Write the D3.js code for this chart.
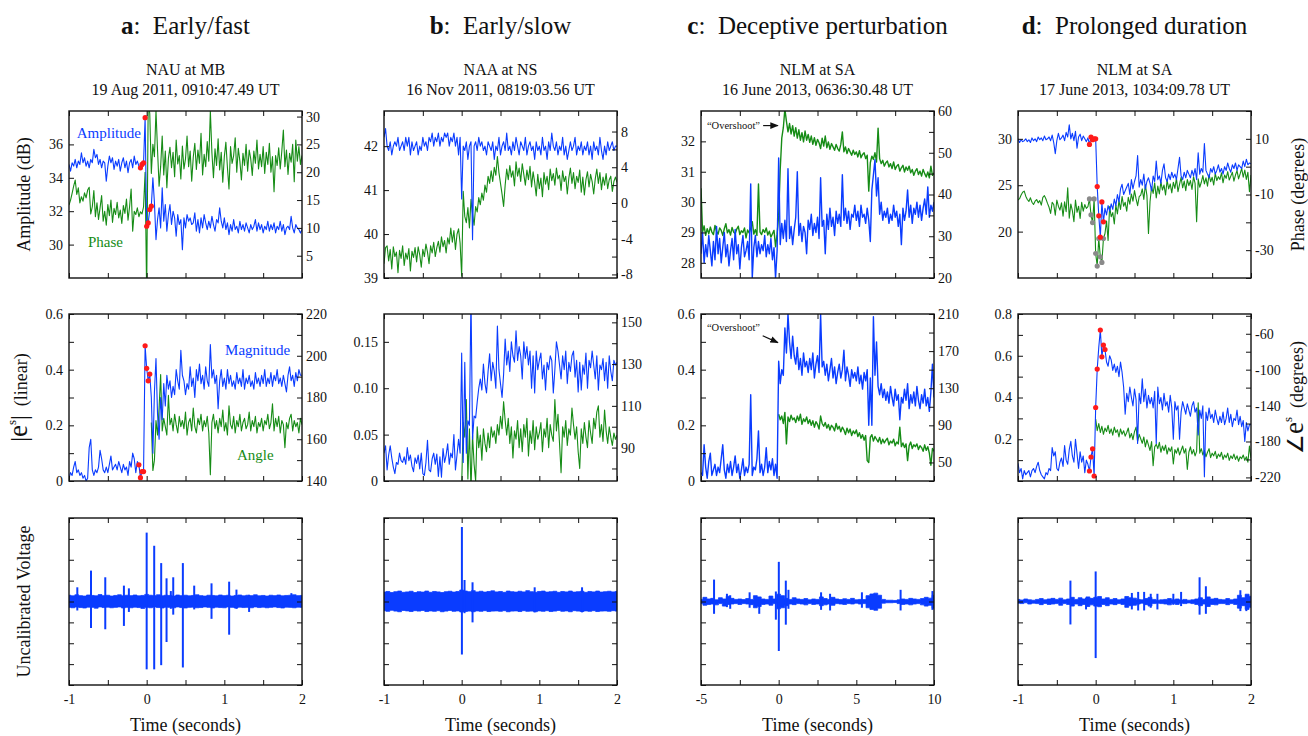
<!DOCTYPE html>
<html>
<head>
<meta charset="utf-8">
<title>Early VLF perturbations</title>
<script src="https://cdn.jsdelivr.net/npm/d3@7"></script>
<style>
  body { margin: 0; background: #fff; }
  svg text { font-family: "Liberation Serif", "Times New Roman", serif; fill: #111; }
</style>
</head>
<body>
<svg id="fig" width="1308" height="736"></svg>
<script>
// ---------- data ----------
// columns a, b, d: samples every 0.02 s from -1 s ; column c: every 0.1 s from -5 s
const letters = ["a", "b", "c", "d"];
const names = ["Early/fast", "Early/slow", "Deceptive perturbation", "Prolonged duration"];
const stations = ["NAU at MB", "NAA at NS", "NLM at SA", "NLM at SA"];
const dates = ["19 Aug 2011, 0910:47.49 UT", "16 Nov 2011, 0819:03.56 UT",
               "16 June 2013, 0636:30.48 UT", "17 June 2013, 1034:09.78 UT"];

const ampA = [
  34.8,34.4,34.9,34.7,35.1,34.6,35.0,34.8,35.5,34.9,
  35.2,34.7,35.0,34.6,35.1,34.9,35.7,35.2,35.4,34.8,
  35.1,34.6,35.0,34.9,33.8,34.7,35.3,34.9,35.2,34.5,
  35.0,34.7,35.1,34.4,34.9,35.2,34.6,35.0,34.3,34.9,
  35.1,34.6,35.3,34.8,35.0,34.7,34.6,34.8,34.9,37.6,
  31.1,31.3,32.1,32.3,34.0,32.5,30.3,31.5,32.2,31.0,
  33.4,31.4,32.4,30.8,31.8,32.4,31.2,32.0,31.6,30.5,
  31.8,31.2,31.5,29.7,31.6,31.0,31.8,31.4,31.6,31.2,
  31.3,31.9,30.8,31.5,30.7,31.6,31.0,31.8,31.3,30.9,
  31.4,31.0,31.7,31.2,30.8,31.5,31.3,32.2,31.4,31.0,
  31.6,30.9,31.3,30.6,31.2,30.8,31.5,30.9,31.1,30.7,
  31.4,30.9,31.2,30.8,31.3,31.0,30.7,31.2,30.9,31.1,
  31.5,30.8,31.3,30.9,31.2,30.7,31.1,30.9,31.4,30.8,
  31.2,30.9,31.3,30.7,31.1,30.9,31.4,30.8,31.2,30.6,
  31.0,31.1,30.9,31.7,31.0,30.7,31.2,31.0,30.9,30.7,30.9];
const phaseA = [
  14.1,15.0,16.2,17.5,18.6,16.0,17.2,14.5,15.6,14.8,
  16.3,15.4,16.8,17.3,12.5,13.8,16.7,12.0,14.5,11.5,
  13.6,15.8,11.2,13.0,10.5,14.2,12.2,15.0,11.0,13.5,
  12.4,14.6,11.8,13.2,10.8,14.0,12.6,15.2,11.4,13.8,
  17.0,9.4,13.0,12.4,13.6,12.0,12.9,12.5,13.8,20.0,
  -2.0,33.0,30.5,19.8,25.0,22.8,31.0,24.0,17.5,21.0,
  26.5,19.5,23.8,17.2,22.5,24.5,20.8,23.6,19.2,25.8,
  21.5,23.0,18.8,24.7,20.6,22.4,26.5,21.0,23.8,18.4,
  22.7,25.2,20.5,24.0,21.6,27.0,19.5,23.2,21.0,25.5,
  22.0,31.0,23.5,19.0,24.2,21.2,26.0,20.4,23.6,18.2,
  22.8,25.4,20.8,17.0,24.6,21.6,23.0,26.2,20.0,24.3,
  22.0,18.6,23.4,21.2,25.0,20.2,24.0,22.4,19.4,23.8,
  21.6,25.8,20.6,23.2,21.0,24.6,19.8,23.6,21.4,25.2,
  20.0,22.8,16.5,23.0,21.2,24.4,20.6,23.8,27.6,21.0,
  24.0,19.6,23.4,21.8,25.0,18.3,25.8,22.0,24.6,21.4,23.0];
const magA = [
  0.01,0.03,0.02,0.05,0.07,0.03,0.04,0.02,0.03,0.01,
  0.02,0.00,0.01,0.12,0.15,0.04,0.02,0.04,0.03,0.05,
  0.11,0.08,0.04,0.03,0.05,0.03,0.06,0.09,0.04,0.05,
  0.06,0.04,0.07,0.05,0.03,0.06,0.04,0.05,0.02,0.07,
  0.05,0.10,0.08,0.03,0.07,0.058,0.012,0.034,0.034,0.486,
  0.405,0.36,0.384,0.30,0.10,0.32,0.44,0.24,0.15,0.30,
  0.22,0.35,0.27,0.38,0.33,0.36,0.30,0.34,0.31,0.40,
  0.36,0.33,0.47,0.38,0.36,0.31,0.35,0.33,0.41,0.34,
  0.37,0.30,0.40,0.36,0.42,0.35,0.38,0.33,0.41,0.36,
  0.34,0.49,0.37,0.40,0.35,0.38,0.26,0.36,0.40,0.34,
  0.37,0.33,0.40,0.35,0.38,0.34,0.36,0.33,0.39,0.35,
  0.37,0.34,0.40,0.33,0.37,0.35,0.38,0.34,0.36,0.33,
  0.39,0.35,0.37,0.34,0.38,0.35,0.40,0.34,0.37,0.35,
  0.39,0.34,0.38,0.36,0.40,0.35,0.37,0.34,0.38,0.35,
  0.32,0.38,0.41,0.36,0.38,0.34,0.39,0.36,0.40,0.38,0.38];
// angle starts at +0.06 s
const angA = [
  168,145,150,169,162,175,191,164,170,166,
  162,181,167,170,164,172,167,163,171,166,
  169,165,173,162,168,170,164,175,166,163,
  170,167,172,164,169,166,171,163,143,168,
  172,165,169,163,170,166,174,164,168,162,
  176,167,165,171,163,169,166,172,164,168,
  170,165,167,173,164,169,166,171,163,168,
  166,170,164,169,167,172,165,168,177,164,
  170,166,171,163,169,167,156,168,165,170,
  172,164,169,166,168,163,170,167];

const ampB = [
  42.2,42.4,42.0,41.9,42.1,41.8,42.0,42.1,42.0,42.2,
  41.9,42.0,42.1,41.9,42.2,42.0,42.2,41.8,42.1,41.9,
  42.0,42.1,41.8,42.0,41.9,42.2,42.0,42.1,41.9,42.2,
  42.1,42.3,42.0,42.2,42.1,42.3,42.0,42.2,42.1,42.3,
  42.2,42.3,42.0,42.2,42.1,42.3,42.0,42.2,41.8,42.2,
  40.8,42.0,41.9,42.1,41.7,42.0,42.1,39.87,42.0,42.1,
  41.9,42.2,42.0,42.1,41.9,42.0,41.8,42.1,42.0,41.9,
  42.1,41.7,42.0,41.9,42.2,41.8,42.0,42.1,41.9,42.3,
  41.9,42.0,41.8,42.1,41.9,42.2,42.0,41.8,42.1,42.0,
  41.9,42.2,41.8,42.0,42.1,41.9,42.0,41.7,42.1,41.9,
  42.0,41.8,42.2,41.9,42.0,41.7,42.1,41.9,42.3,42.0,
  41.9,42.1,41.8,42.0,41.9,42.2,41.8,42.0,41.7,41.9,
  42.1,41.9,42.0,42.2,41.8,42.0,41.9,42.1,41.8,42.0,
  41.9,42.1,41.8,42.0,41.7,42.1,41.9,42.0,41.8,42.2,
  41.9,41.7,42.0,41.8,42.1,41.9,42.0,42.1,41.9,42.0,42.0];
const phaseB = [
  -6.8,-5.0,-4.8,-6.5,-5.2,-7.4,-4.9,-6.0,-5.5,-7.8,
  -5.3,-6.2,-4.8,-7.0,-5.6,-6.3,-5.1,-7.6,-5.4,-6.1,
  -5.0,-6.6,-4.9,-5.8,-7.2,-5.2,-6.0,-4.6,-5.5,-6.8,
  -4.8,-5.6,-4.4,-6.0,-5.0,-4.3,-5.5,-3.8,-4.9,-4.2,
  -5.6,-3.9,-4.6,-2.8,-4.4,-3.1,-5.2,-3.5,-2.9,-4.5,
  -8.2,1.3,-1.5,-2.2,-0.5,-2.8,0.4,-1.2,-2.5,-0.4,
  -1.0,0.6,-0.2,1.1,0.3,2.0,1.2,3.0,2.2,3.6,
  2.4,4.0,3.1,5.2,3.4,2.2,1.0,-0.4,2.0,3.8,
  2.6,4.2,2.9,3.6,1.9,4.6,3.0,3.9,2.4,4.4,
  3.2,2.0,3.7,2.6,4.1,1.8,3.5,2.3,0.8,3.2,
  1.6,2.8,0.7,3.4,2.1,3.0,1.5,3.8,2.5,3.3,
  2.0,3.9,2.7,3.1,1.4,3.6,2.4,3.0,1.0,2.8,
  3.9,2.2,3.4,1.6,3.0,2.3,3.7,1.2,2.9,0.9,
  2.6,3.5,1.8,3.2,2.4,1.0,2.7,3.8,2.2,3.4,
  1.5,2.9,2.0,3.3,1.6,2.6,3.0,1.3,2.4,2.9,2.3];
const magB = [
  0.030,0.038,0.012,0.028,0.038,0.025,0.015,0.008,0.020,0.018,
  0.030,0.022,0.020,0.026,0.018,0.036,0.022,0.028,0.016,0.010,
  0.025,0.019,0.028,0.013,0.030,0.008,0.006,0.020,0.044,0.012,
  0.010,0.024,0.030,0.018,0.029,0.005,0.026,0.004,0.035,0.020,
  0.028,0.040,0.018,0.030,0.025,0.050,0.012,0.028,0.045,0.030,
  0.138,0.020,0.128,0.030,0.065,0.060,0.200,0.045,0.070,0.068,
  0.085,0.100,0.110,0.098,0.126,0.105,0.095,0.118,0.137,0.108,
  0.128,0.118,0.100,0.167,0.120,0.105,0.090,0.115,0.153,0.125,
  0.140,0.118,0.150,0.135,0.128,0.162,0.130,0.145,0.135,0.110,
  0.150,0.132,0.145,0.125,0.140,0.100,0.135,0.095,0.140,0.120,
  0.130,0.138,0.110,0.125,0.098,0.128,0.120,0.135,0.130,0.095,
  0.120,0.150,0.140,0.125,0.110,0.135,0.120,0.140,0.105,0.128,
  0.118,0.135,0.140,0.112,0.130,0.096,0.128,0.098,0.125,0.115,
  0.138,0.100,0.130,0.122,0.140,0.125,0.110,0.135,0.098,0.125,
  0.120,0.132,0.108,0.128,0.100,0.135,0.118,0.108,0.130,0.125,0.128];
// angle starts at 0 s
const angB = [
  72,102,95,113,75,99,70,96,82,74,
  100,90,96,84,99,92,88,97,90,100,
  95,98,92,101,96,105,99,112,103,96,
  104,92,100,85,98,94,103,90,99,88,
  101,95,104,86,98,92,103,89,100,94,
  97,102,88,99,95,104,90,101,96,93,
  113,98,106,92,78,100,95,103,91,99,
  96,109,101,94,100,88,80,99,92,102,
  95,90,103,97,92,104,99,107,110,95,
  101,93,108,98,92,100,95,91,97,94,
  96];

const ampC = [
  28.3,29.0,28.0,28.6,28.2,28.9,28.4,27.9,28.7,28.1,
  29.2,28.3,28.8,28.0,28.5,29.0,28.2,28.6,27.9,28.4,
  28.8,28.1,29.1,28.3,28.6,27.8,28.5,28.9,28.2,28.4,
  28.7,28.1,30.6,27.5,28.5,28.9,28.2,28.7,28.3,28.6,
  28.4,28.9,28.2,28.6,28.3,28.8,28.1,28.5,27.5,28.4,
  31.45,28.6,29.3,28.8,29.4,28.7,31.1,28.8,29.2,28.6,
  29.1,29.5,31.0,28.9,29.3,28.7,29.2,29.0,28.3,29.4,
  29.1,29.6,28.9,29.3,29.0,29.5,28.8,30.8,29.2,29.4,
  28.3,29.6,29.1,29.8,29.2,29.5,28.9,29.7,29.3,29.6,
  29.2,30.9,29.4,29.8,29.3,29.7,29.1,29.6,29.5,29.9,
  29.4,29.7,29.2,29.9,29.5,29.6,29.3,29.8,29.4,28.7,
  30.4,30.9,31.4,30.2,30.8,29.6,30.0,29.4,29.7,29.5,
  29.8,29.3,29.6,29.4,29.9,29.5,29.7,29.2,29.6,28.6,
  29.8,29.4,29.7,30.4,29.5,29.9,29.3,29.8,29.6,30.0,
  29.5,29.9,29.4,29.8,30.1,29.6,30.5,29.5,29.9,29.7,30.0];
const phaseC = [
  41.5,31.0,32.5,30.2,31.8,30.6,32.2,31.0,30.4,32.6,
  31.2,30.5,32.0,31.4,30.2,31.8,33.0,30.8,31.6,30.3,
  32.1,31.0,30.6,31.7,32.4,30.4,31.3,30.9,32.0,29.6,
  31.5,30.8,31.9,33.5,30.5,31.6,30.2,42.5,31.0,30.4,
  31.6,30.9,32.0,30.3,31.2,29.8,30.6,31.4,27.5,30.5,
  35.0,46.0,53.5,56.0,60.5,57.5,55.0,57.0,54.5,56.5,
  54.0,56.0,53.5,55.5,53.0,54.8,52.6,55.2,53.0,54.4,
  52.5,54.0,52.0,53.6,51.8,53.2,52.4,51.0,53.5,51.6,
  54.0,51.2,52.6,50.8,52.2,51.4,50.6,52.0,51.0,50.4,
  52.0,55.0,50.2,51.4,49.8,51.0,50.2,49.4,50.6,49.6,
  50.2,49.0,50.5,48.8,49.6,50.0,48.6,49.4,40.8,47.6,
  49.2,48.4,50.0,47.8,55.9,48.6,47.4,48.2,46.8,47.6,
  48.0,46.6,47.4,46.2,47.8,46.0,46.8,47.2,45.6,46.4,
  47.0,45.4,46.6,45.8,46.8,45.2,46.0,44.6,45.6,46.2,
  44.8,45.6,44.4,46.0,45.0,44.2,45.4,44.0,46.8,44.6,45.2];
const magC = [
  0.03,0.02,0.13,0.05,0.01,0.07,0.10,0.02,0.04,0.06,
  0.02,0.05,0.03,0.08,0.13,0.04,0.01,0.06,0.03,0.07,
  0.02,0.05,0.09,0.03,0.06,0.01,0.04,0.08,0.02,0.05,
  0.03,0.06,0.31,0.02,0.05,0.04,0.08,0.18,0.03,0.06,
  0.02,0.05,0.12,0.03,0.07,0.04,0.08,0.02,0.06,0.01,
  0.43,0.35,0.40,0.38,0.55,0.46,0.60,0.50,0.44,0.52,
  0.45,0.42,0.48,0.40,0.44,0.38,0.46,0.41,0.43,0.39,
  0.44,0.40,0.46,0.37,0.42,0.45,0.39,0.60,0.41,0.43,
  0.38,0.42,0.36,0.40,0.44,0.37,0.41,0.35,0.39,0.42,
  0.37,0.40,0.47,0.36,0.41,0.38,0.34,0.40,0.37,0.39,
  0.36,0.41,0.35,0.38,0.33,0.39,0.36,0.40,0.20,0.37,
  0.20,0.59,0.38,0.50,0.34,0.31,0.35,0.30,0.33,0.29,
  0.32,0.28,0.34,0.30,0.27,0.33,0.29,0.31,0.22,0.30,
  0.28,0.33,0.29,0.35,0.26,0.31,0.28,0.32,0.27,0.34,
  0.29,0.26,0.31,0.28,0.33,0.27,0.30,0.25,0.32,0.42,0.30];
// angle starts at 0 s
const angC = [
  102,96,100,92,104,70,99,94,101,96,
  98,93,100,95,102,91,97,94,99,92,
  96,90,95,88,94,91,86,100,92,89,
  93,87,91,85,90,88,84,92,86,89,
  83,88,85,80,87,82,86,79,84,81,
  85,78,82,76,80,74,79,52,50,77,
  80,73,78,75,72,77,70,75,71,74,
  76,69,73,71,75,68,72,70,88,67,
  71,66,70,52,68,72,65,69,67,70,
  64,68,66,62,69,63,67,60,47,65,
  62];

const ampD = [
  30.0,29.6,29.9,29.7,29.8,30.0,29.7,29.9,29.6,30.1,
  29.8,30.0,29.7,30.2,29.9,30.1,29.8,30.3,29.9,30.0,
  30.2,29.8,30.4,29.6,28.4,29.8,30.6,29.9,30.1,30.4,
  29.8,30.7,30.2,31.5,30.0,30.6,29.8,30.8,29.0,30.2,
  30.5,29.8,30.3,30.0,29.7,30.1,29.4,30.2,29.9,30.0,
  30.0,24.85,21.7,19.4,23.2,21.05,22.5,21.8,22.8,22.2,
  23.0,22.4,23.5,22.8,24.0,23.2,24.6,25.1,24.0,24.4,
  24.8,25.2,24.0,25.6,24.6,25.4,26.0,28.2,24.8,25.6,
  25.0,26.2,24.6,25.4,25.8,25.2,24.4,26.0,25.4,27.6,
  25.6,26.0,25.2,26.6,27.3,25.8,25.4,26.2,25.6,26.4,
  25.8,26.2,25.6,26.8,28.0,26.0,25.6,26.4,25.8,26.6,
  26.2,25.8,26.6,26.0,26.8,25.6,28.5,26.2,26.8,26.4,
  29.5,26.6,26.2,25.8,26.8,26.4,27.0,26.2,26.6,27.2,
  26.4,26.8,26.2,27.0,26.6,27.4,26.8,26.4,27.2,26.8,
  27.4,26.6,27.2,27.0,26.8,27.6,27.0,27.8,27.2,27.4,27.3];
const phaseD = [
  -12.0,-11.5,-10.2,-9.2,-8.8,-10.6,-11.8,-12.5,-11.2,-12.8,
  -13.6,-12.4,-11.8,-13.0,-12.2,-13.8,-11.0,-10.4,-11.6,-13.2,
  -14.6,-16.8,-12.8,-13.6,-17.4,-12.0,-14.2,-15.6,-13.0,-17.8,
  -12.6,-16.2,-7.6,-18.5,-13.4,-15.8,-19.8,-12.0,-16.4,-14.2,
  -18.6,-12.8,-16.0,-13.6,-15.0,-14.4,-11.6,-17.3,-20.1,-11.6,
  -31.2,-35.7,-25.8,-32.4,-34.4,-25.8,-24.0,-19.5,-26.5,-14.3,
  -18.0,-16.5,-20.6,-13.8,-17.0,-12.2,-15.4,-10.7,-14.2,-12.8,
  -16.0,-11.0,-13.5,-9.8,-12.4,-8.6,-11.5,-14.0,-10.8,-10.2,
  -8.0,-11.8,-6.5,-10.4,-24.0,-12.6,-7.2,-9.6,-5.8,-11.2,
  -7.0,-9.8,-5.5,-8.4,-6.6,-10.2,-4.8,-8.0,-6.2,-9.4,
  -5.6,-7.8,-4.2,-9.0,-6.4,-3.8,-7.6,-5.2,-8.6,-4.6,
  -6.8,-5.0,-8.2,-3.6,-6.0,-19.8,-4.4,-7.4,-5.6,-3.2,
  -6.2,-4.0,-7.0,-2.8,-5.4,-3.8,-6.6,-2.4,-5.0,-3.6,
  -4.6,-2.2,-5.8,-3.0,-4.2,-1.8,-4.8,-3.4,-2.0,-5.2,
  -3.0,-1.4,-4.4,-2.6,-0.6,-3.8,-1.2,-4.6,-2.0,-9.0,-3.0];
const magD = [
  0.085,0.04,0.06,0.01,0.05,0.03,0.04,0.05,0.02,0.05,
  0.06,0.04,0.07,0.09,0.05,0.03,0.02,0.01,0.04,0.03,
  0.06,0.05,0.16,0.12,0.14,0.06,0.05,0.09,0.11,0.07,
  0.17,0.10,0.08,0.15,0.19,0.12,0.09,0.20,0.13,0.06,
  0.14,0.09,0.12,0.04,0.10,0.08,0.048,0.115,0.154,0.024,
  0.352,0.536,0.64,0.723,0.595,0.651,0.63,0.57,0.55,0.60,
  0.58,0.53,0.56,0.52,0.55,0.50,0.57,0.52,0.45,0.32,
  0.42,0.38,0.45,0.40,0.36,0.44,0.39,0.18,0.42,0.37,
  0.49,0.38,0.44,0.35,0.41,0.37,0.40,0.35,0.43,0.18,
  0.45,0.37,0.40,0.34,0.42,0.36,0.38,0.33,0.41,0.35,
  0.20,0.38,0.34,0.36,0.20,0.33,0.38,0.35,0.32,0.37,
  0.34,0.31,0.36,0.38,0.33,0.35,0.22,0.34,0.30,0.36,
  0.02,0.33,0.29,0.35,0.30,0.32,0.28,0.34,0.30,0.27,
  0.31,0.28,0.33,0.27,0.30,0.35,0.28,0.32,0.26,0.30,
  0.29,0.34,0.27,0.31,0.26,0.29,0.19,0.28,0.24,0.27,0.27];
// angle starts at 0 s
const angD = [
  -155,-168,-160,-170,-163,-172,-165,-169,-162,-171,
  -166,-173,-164,-170,-167,-175,-166,-172,-168,-174,
  -170,-165,-176,-171,-178,-169,-164,-180,-172,-177,
  -182,-175,-186,-178,-184,-190,-180,-207,-186,-183,
  -188,-181,-192,-185,-190,-184,-194,-187,-191,-186,
  -205,-189,-193,-187,-195,-190,-185,-193,-188,-211,
  -192,-186,-194,-189,-196,-191,-137,-193,-188,-195,
  -190,-197,-192,-188,-198,-193,-196,-191,-199,-194,
  -197,-192,-200,-195,-198,-193,-201,-196,-199,-194,
  -200,-196,-202,-197,-199,-195,-201,-197,-203,-185,
  -199];

// red (and grey) marked samples, as indices into the series
const dotsA1 = [46, 47, 48, 49, 50, 51, 52, 53];
const dotsA2 = [45, 46, 47, 48, 49, 50, 51, 52];
const dotsD1 = [46, 47, 48, 49, 50, 51, 52, 53, 54, 55];
const dotsD2 = [46, 47, 48, 49, 50, 51, 53, 54, 55, 56];

// voltage noise band: hi/lo envelope (61 steps across each window)
const bandHiA = [0.30,0.27,0.32,0.28,0.26,0.31,0.29,0.27,0.33,0.28,0.30,0.26,0.29,0.32,0.27,0.30,0.28,0.31,0.27,0.29,
  0.34,0.30,0.28,0.32,0.27,0.30,0.29,0.26,0.31,0.28,0.30,0.27,0.29,0.32,0.28,0.26,0.30,0.29,0.27,0.31,
  0.28,0.30,0.26,0.29,0.31,0.27,0.30,0.28,0.32,0.27,0.29,0.26,0.30,0.28,0.31,0.27,0.29,0.30,0.32,0.28,0.29];
const bandLoA = [-0.28,-0.30,-0.26,-0.29,-0.31,-0.27,-0.28,-0.32,-0.26,-0.29,-0.27,-0.30,-0.28,-0.26,-0.31,-0.28,-0.30,-0.27,-0.29,-0.33,
  -0.28,-0.30,-0.26,-0.29,-0.31,-0.27,-0.28,-0.30,-0.26,-0.29,-0.31,-0.28,-0.27,-0.30,-0.29,-0.26,-0.28,-0.31,-0.27,-0.29,
  -0.30,-0.26,-0.28,-0.31,-0.27,-0.29,-0.28,-0.30,-0.26,-0.29,-0.27,-0.30,-0.28,-0.26,-0.29,-0.31,-0.27,-0.28,-0.30,-0.27,-0.28];
const bandHiB = [0.45,0.48,0.43,0.47,0.50,0.44,0.46,0.49,0.43,0.47,0.45,0.50,0.44,0.48,0.46,0.43,0.47,0.49,0.45,0.48,
  0.55,0.50,0.47,0.52,0.46,0.49,0.45,0.48,0.51,0.46,0.48,0.44,0.50,0.47,0.45,0.49,0.46,0.52,0.47,0.44,
  0.48,0.50,0.45,0.47,0.49,0.44,0.48,0.46,0.50,0.45,0.47,0.49,0.44,0.48,0.46,0.50,0.45,0.47,0.49,0.46,0.48];
const bandLoB = [-0.44,-0.47,-0.42,-0.46,-0.49,-0.43,-0.45,-0.48,-0.44,-0.46,-0.43,-0.48,-0.45,-0.47,-0.44,-0.49,-0.46,-0.43,-0.47,-0.45,
  -0.50,-0.48,-0.46,-0.49,-0.45,-0.47,-0.44,-0.48,-0.46,-0.45,-0.47,-0.44,-0.49,-0.46,-0.45,-0.48,-0.44,-0.47,-0.46,-0.49,
  -0.45,-0.47,-0.44,-0.48,-0.46,-0.43,-0.47,-0.45,-0.49,-0.44,-0.46,-0.48,-0.45,-0.47,-0.44,-0.48,-0.46,-0.45,-0.47,-0.44,-0.46];
const bandHiC = [0.10,0.20,0.12,0.15,0.08,0.18,0.12,0.25,0.15,0.10,0.12,0.09,0.14,0.10,0.28,0.22,0.12,0.10,0.26,0.12,
  0.35,0.28,0.15,0.10,0.18,0.12,0.10,0.14,0.08,0.12,0.10,0.22,0.14,0.10,0.20,0.12,0.09,0.13,0.10,0.15,
  0.08,0.10,0.09,0.28,0.36,0.40,0.30,0.10,0.06,0.06,0.05,0.08,0.12,0.10,0.15,0.12,0.10,0.14,0.20,0.16,0.30];
const bandLoC = [-0.10,-0.18,-0.14,-0.12,-0.16,-0.10,-0.22,-0.14,-0.12,-0.10,-0.14,-0.10,-0.12,-0.15,-0.30,-0.24,-0.14,-0.12,-0.18,-0.10,
  -0.35,-0.30,-0.20,-0.12,-0.15,-0.10,-0.12,-0.16,-0.10,-0.14,-0.12,-0.20,-0.16,-0.12,-0.18,-0.10,-0.12,-0.14,-0.10,-0.12,
  -0.08,-0.12,-0.10,-0.30,-0.38,-0.42,-0.32,-0.08,-0.06,-0.06,-0.05,-0.10,-0.14,-0.12,-0.16,-0.12,-0.10,-0.16,-0.22,-0.18,-0.32];
const bandHiD = [0.10,0.07,0.12,0.08,0.06,0.10,0.14,0.08,0.12,0.15,0.10,0.16,0.08,0.12,0.20,0.10,0.18,0.12,0.22,0.15,
  0.20,0.24,0.12,0.18,0.10,0.14,0.08,0.12,0.24,0.18,0.16,0.10,0.08,0.14,0.20,0.10,0.06,0.08,0.10,0.14,
  0.08,0.12,0.07,0.10,0.06,0.08,0.12,0.18,0.10,0.22,0.12,0.15,0.10,0.08,0.14,0.08,0.12,0.30,0.18,0.35,0.25];
const bandLoD = [-0.08,-0.10,-0.06,-0.12,-0.08,-0.10,-0.15,-0.09,-0.14,-0.12,-0.10,-0.18,-0.10,-0.14,-0.22,-0.12,-0.20,-0.14,-0.24,-0.16,
  -0.22,-0.25,-0.14,-0.20,-0.12,-0.15,-0.10,-0.14,-0.28,-0.20,-0.18,-0.12,-0.08,-0.15,-0.22,-0.10,-0.08,-0.10,-0.12,-0.16,
  -0.10,-0.14,-0.08,-0.10,-0.07,-0.10,-0.14,-0.20,-0.12,-0.24,-0.14,-0.16,-0.10,-0.10,-0.15,-0.10,-0.14,-0.32,-0.20,-0.38,-0.28];

// sferic spikes: time, top, bottom
const spikeTA = [-0.893,-0.717,-0.533,-0.293,-0.229,0,0.097,0.187,0.256,0.311,0.342,0.466,0.612,0.835,1.062,1.156,1.319,1.863];
const spikeHiA = [0.68,1.48,1.16,0.76,0.63,3.3,2.67,1.84,1.11,0.5,1.16,1.84,0.76,0.87,0.95,0.57,0.32,0.4];
const spikeLoA = [-0.43,-1.27,-1.33,-1.17,-0.5,-3.25,-3.25,-3.05,-1.94,-0.35,-0.63,-3.16,-0.38,-0.83,-1.59,-0.35,-0.5,-0.27];
const spikeTB = [0.003,0.037,0.14,0.94,1.55];
const spikeHiB = [3.57,1.03,0.92,0.68,0.68];
const spikeLoB = [-2.54,-0.56,-1.0,-0.52,-0.52];
const spikeTC = [-4.16,-3.33,-3.12,-1.87,-1.25,-0.18,0.01,0.46,0.63,2.73,3.31,5.36,7.85,9.9];
const spikeHiC = [1.05,0.37,0.3,0.44,0.2,0.48,1.9,1.0,0.56,0.44,0.37,0.44,0.56,0.5];
const spikeLoC = [-0.59,-0.27,-0.35,-0.3,-0.59,-0.87,-2.37,-1.11,-0.35,-0.4,-0.43,-0.3,-0.43,-0.4];
const spikeTD = [-0.325,-0.124,0,0.466,0.547,0.624,0.709,0.795,1.0,1.1,1.338,1.419,1.863,1.94];
const spikeHiD = [1.0,0.17,1.44,0.41,0.46,0.46,0.37,0.37,0.37,0.46,1.16,0.73,0.54,0.33];
const spikeLoD = [-1.1,-0.38,-2.71,-0.38,-0.43,-0.43,-0.3,-0.38,-0.16,-0.22,-0.63,-0.59,-0.46,-0.46];

// ---------- drawing ----------
const svg = d3.select("#fig");
const W = 233, H = 167;
const colX = [69, 384, 701, 1018];
const rowY = [111, 314, 518];
const BLUE = "#0a3cff", GREEN = "#168c16";
const SERIF = '"Liberation Serif","Times New Roman",serif';

const pts = (t0, dt, vals) => vals.map((v, i) => ({ t: t0 + i * dt, v }));
const plain = d => String(d);
const two = d => (d === 0 ? "0" : d.toFixed(2));
const steps = (a, b, s) => d3.range(a, b + s / 2, s);

svg.append("defs").append("marker")
  .attr("id", "arrow").attr("viewBox", "0 0 10 10").attr("refX", 9).attr("refY", 5)
  .attr("markerWidth", 7).attr("markerHeight", 7).attr("orient", "auto")
  .append("path").attr("d", "M0,1 L10,5 L0,9 z").attr("fill", "#111");

function axisPair(g, make, scale, tickVals, labelVals, fmt, tr, pad) {
  g.append("g").attr("transform", tr)
    .call(make(scale).tickValues(tickVals).tickSize(-5).tickFormat(""))
    .call(a => a.select(".domain").remove())
    .selectAll("line").attr("stroke", "#111");
  if (labelVals) {
    g.append("g").attr("transform", tr)
      .call(make(scale).tickValues(labelVals).tickSize(0).tickPadding(pad).tickFormat(fmt))
      .call(a => a.select(".domain").remove())
      .attr("font-family", SERIF).attr("font-size", 14);
  }
}

let clipN = 0;
function panel(c, r, cfg) {
  const g = svg.append("g").attr("transform", `translate(${colX[c]},${rowY[r]})`);
  const x = d3.scaleLinear().domain(cfg.xd).range([0, W]);
  const yL = d3.scaleLinear().domain(cfg.yl).range([H, 0]);
  const yR = cfg.yr ? d3.scaleLinear().domain(cfg.yr).range([H, 0]) : yL;
  const id = "clip" + clipN++;
  g.append("clipPath").attr("id", id).append("rect").attr("width", W).attr("height", H);
  const plot = g.append("g").attr("clip-path", `url(#${id})`);

  if (cfg.band) {
    plot.append("path").datum(cfg.band)
      .attr("fill", BLUE).attr("stroke", BLUE).attr("stroke-width", 0.8)
      .attr("d", d3.area().curve(d3.curveStep).x(d => x(d.t)).y0(d => yL(d.lo)).y1(d => yL(d.hi)));
    plot.selectAll(".spike").data(cfg.spikes).join("line")
      .attr("x1", d => x(d.t)).attr("x2", d => x(d.t))
      .attr("y1", d => yL(d.hi)).attr("y2", d => yL(d.lo))
      .attr("stroke", BLUE).attr("stroke-width", 2);
  }
  (cfg.lines || []).forEach(s => {
    const y = s.axis === "r" ? yR : yL;
    plot.append("path").datum(s.data)
      .attr("fill", "none").attr("stroke", s.color).attr("stroke-width", s.w || 1.1)
      .attr("stroke-linejoin", "round")
      .attr("d", d3.line().x(d => x(d.t)).y(d => y(d.v)));
    if (s.dots) {
      plot.selectAll(null).data(s.dots.map(i => s.data[i])).join("circle")
        .attr("cx", d => x(d.t)).attr("cy", d => y(d.v)).attr("r", 2.6)
        .attr("fill", s.dotColor || "#ff1a1a");
    }
  });
  (cfg.notes || []).forEach(n => {
    const y = n.axis === "r" ? yR : yL;
    g.append("text").attr("x", x(n.t)).attr("y", y(n.v))
      .attr("text-anchor", n.anchor || "start").attr("font-size", n.size || 15)
      .style("fill", n.color || "#111").text(n.text);
  });
  (cfg.arrows || []).forEach(a => {
    g.append("line").attr("x1", x(a.t0)).attr("y1", yL(a.v0)).attr("x2", x(a.t1)).attr("y2", yL(a.v1))
      .attr("stroke", "#111").attr("stroke-width", 1.2).attr("marker-end", "url(#arrow)");
  });

  g.append("rect").attr("width", W).attr("height", H)
    .attr("fill", "none").attr("stroke", "#111").attr("stroke-width", 1.4);

  axisPair(g, d3.axisBottom, x, cfg.xt, r === 2 ? cfg.xl : null, plain, `translate(0,${H})`, 9);
  axisPair(g, d3.axisTop, x, cfg.xt, null, plain, "translate(0,0)", 0);
  axisPair(g, d3.axisLeft, yL, cfg.ylt, cfg.yll, cfg.fmtL || plain, "translate(0,0)", 6);
  if (cfg.yr) axisPair(g, d3.axisRight, yR, cfg.yrt, cfg.yrl, plain, `translate(${W},0)`, 4);
  else axisPair(g, d3.axisRight, yL, cfg.ylt, null, plain, `translate(${W},0)`, 4);
}

const xAB = [-1, 2], xC = [-5, 10];
const xtAB = steps(-1, 2, 0.5), xlAB = [-1, 0, 1, 2];
const xtC = steps(-5, 10, 2.5), xlC = [-5, 0, 5, 10];
const band = (t0, dt, hi, lo) => hi.map((h, i) => ({ t: t0 + i * dt, hi: h, lo: lo[i] }));
const spikes = (ts, hi, lo) => ts.map((t, i) => ({ t, hi: hi[i], lo: lo[i] }));
const voltTicks = steps(-4, 4, 1);

// column a
panel(0, 0, { xd: xAB, xt: xtAB, xl: xlAB, yl: [28, 38], ylt: [30, 32, 34, 36], yll: [30, 32, 34, 36],
  yr: [1, 31], yrt: [5, 10, 15, 20, 25, 30], yrl: [5, 10, 15, 20, 25, 30],
  lines: [{ data: pts(-1, 0.02, phaseA), color: GREEN, axis: "r" },
          { data: pts(-1, 0.02, ampA), color: BLUE, dots: dotsA1 }],
  notes: [{ t: -0.9, v: 36.38, text: "Amplitude", color: BLUE },
          { t: -0.755, v: 29.86, text: "Phase", color: GREEN }] });
panel(0, 1, { xd: xAB, xt: xtAB, xl: xlAB, yl: [0, 0.6], ylt: steps(0, 0.6, 0.1), yll: [0, 0.2, 0.4, 0.6],
  yr: [140, 220], yrt: steps(140, 220, 10), yrl: [140, 160, 180, 200, 220],
  lines: [{ data: pts(0.06, 0.02, angA), color: GREEN, axis: "r" },
          { data: pts(-1, 0.02, magA), color: BLUE, dots: dotsA2 }],
  notes: [{ t: 1.01, v: 0.453, text: "Magnitude", color: BLUE },
          { t: 1.163, v: 0.075, text: "Angle", color: GREEN }] });
panel(0, 2, { xd: xAB, xt: xtAB, xl: xlAB, yl: [-4, 4], ylt: voltTicks,
  band: band(-1, 0.05, bandHiA, bandLoA), spikes: spikes(spikeTA, spikeHiA, spikeLoA) });

// column b
panel(1, 0, { xd: xAB, xt: xtAB, xl: xlAB, yl: [39, 42.8], ylt: [39, 40, 41, 42], yll: [39, 40, 41, 42],
  yr: [-8.4, 10.3], yrt: steps(-8, 8, 2), yrl: [-8, -4, 0, 4, 8],
  lines: [{ data: pts(-1, 0.02, phaseB), color: GREEN, axis: "r" },
          { data: pts(-1, 0.02, ampB), color: BLUE }] });
panel(1, 1, { xd: xAB, xt: xtAB, xl: xlAB, yl: [0, 0.18], ylt: [0, 0.05, 0.1, 0.15], yll: [0, 0.05, 0.1, 0.15], fmtL: two,
  yr: [74, 154], yrt: steps(80, 150, 10), yrl: [90, 110, 130, 150],
  lines: [{ data: pts(0, 0.02, angB), color: GREEN, axis: "r" },
          { data: pts(-1, 0.02, magB), color: BLUE }] });
panel(1, 2, { xd: xAB, xt: xtAB, xl: xlAB, yl: [-4, 4], ylt: voltTicks,
  band: band(-1, 0.05, bandHiB, bandLoB), spikes: spikes(spikeTB, spikeHiB, spikeLoB) });

// column c
panel(2, 0, { xd: xC, xt: xtC, xl: xlC, yl: [27.5, 33], ylt: [28, 29, 30, 31, 32], yll: [28, 29, 30, 31, 32],
  yr: [20, 60], yrt: steps(20, 60, 5), yrl: [20, 30, 40, 50, 60],
  lines: [{ data: pts(-5, 0.1, phaseC), color: GREEN, axis: "r", w: 1.4 },
          { data: pts(-5, 0.1, ampC), color: BLUE, w: 1.4 }],
  notes: [{ t: -1.2, v: 32.42, text: "\u201cOvershoot\u201d", anchor: "end", size: 10.5 }],
  arrows: [{ t0: -1.0, v0: 32.52, t1: -0.05, v1: 32.52 }] });
panel(2, 1, { xd: xC, xt: xtC, xl: xlC, yl: [0, 0.6], ylt: steps(0, 0.6, 0.1), yll: [0, 0.2, 0.4, 0.6],
  yr: [30, 210], yrt: steps(30, 210, 20), yrl: [50, 90, 130, 170, 210],
  lines: [{ data: pts(0, 0.1, angC), color: GREEN, axis: "r", w: 1.4 },
          { data: pts(-5, 0.1, magC), color: BLUE, w: 1.4 }],
  notes: [{ t: -1.2, v: 0.54, text: "\u201cOvershoot\u201d", anchor: "end", size: 10.5 }],
  arrows: [{ t0: -1.03, v0: 0.522, t1: -0.05, v1: 0.497 }] });
panel(2, 2, { xd: xC, xt: xtC, xl: xlC, yl: [-4, 4], ylt: voltTicks,
  band: band(-5, 0.25, bandHiC, bandLoC), spikes: spikes(spikeTC, spikeHiC, spikeLoC) });

// column d
panel(3, 0, { xd: xAB, xt: xtAB, xl: xlAB, yl: [15, 33], ylt: [20, 25, 30], yll: [20, 25, 30],
  yr: [-40, 20], yrt: steps(-40, 20, 10), yrl: [-30, -10, 10],
  lines: [{ data: pts(-1, 0.02, phaseD), color: GREEN, axis: "r", dots: dotsD1, dotColor: "#8a8a8a" },
          { data: pts(-1, 0.02, ampD), color: BLUE, dots: dotsD1 }] });
panel(3, 1, { xd: xAB, xt: xtAB, xl: xlAB, yl: [0, 0.8], ylt: steps(0, 0.8, 0.1), yll: [0.2, 0.4, 0.6, 0.8],
  yr: [-224, -38], yrt: steps(-220, -40, 20), yrl: [-220, -180, -140, -100, -60],
  lines: [{ data: pts(0, 0.02, angD), color: GREEN, axis: "r" },
          { data: pts(-1, 0.02, magD), color: BLUE, dots: dotsD2 }] });
panel(3, 2, { xd: xAB, xt: xtAB, xl: xlAB, yl: [-4, 4], ylt: voltTicks,
  band: band(-1, 0.05, bandHiD, bandLoD), spikes: spikes(spikeTD, spikeHiD, spikeLoD) });

// ---------- titles and axis labels ----------
colX.forEach((cx, c) => {
  const mid = cx + W / 2;
  const t = svg.append("text").attr("x", mid).attr("y", 34).attr("text-anchor", "middle").attr("font-size", 25);
  t.append("tspan").attr("font-weight", "bold").text(letters[c]);
  t.append("tspan").text(":\u00a0 " + names[c]);
  svg.append("text").attr("x", mid).attr("y", 75).attr("text-anchor", "middle").attr("font-size", 16).text(stations[c]);
  svg.append("text").attr("x", mid).attr("y", 95).attr("text-anchor", "middle").attr("font-size", 16).text(dates[c]);
  svg.append("text").attr("x", mid).attr("y", 731).attr("text-anchor", "middle").attr("font-size", 18).text("Time (seconds)");
});

const rowMid = r => rowY[r] + H / 2;
svg.append("text").attr("transform", `translate(30,${rowMid(0)}) rotate(-90)`)
  .attr("text-anchor", "middle").attr("font-size", 18).text("Amplitude (dB)");
const es = svg.append("text").attr("transform", `translate(27,${rowMid(1)}) rotate(-90)`)
  .attr("text-anchor", "middle").attr("font-size", 18);
es.append("tspan").attr("font-size", 24).text("|");
es.append("tspan").attr("font-size", 27).text("e");
es.append("tspan").attr("font-size", 13).attr("dy", -11).text("s");
es.append("tspan").attr("font-size", 24).attr("dy", 11).text("|");
es.append("tspan").text("\u00a0 (linear)");
svg.append("text").attr("transform", `translate(30,${rowMid(2)}) rotate(-90)`)
  .attr("text-anchor", "middle").attr("font-size", 18).text("Uncalibrated Voltage");

svg.append("text").attr("transform", `translate(1304,${rowMid(0)}) rotate(-90)`)
  .attr("text-anchor", "middle").attr("font-size", 18).text("Phase (degrees)");
const ang = svg.append("text").attr("transform", `translate(1303,${rowMid(1)}) rotate(-90)`)
  .attr("text-anchor", "middle").attr("font-size", 18);
ang.append("tspan").attr("font-size", 22).text("\u2220");
ang.append("tspan").attr("font-size", 27).text("e");
ang.append("tspan").attr("font-size", 13).attr("dy", -11).text("s");
ang.append("tspan").attr("dy", 11).text("\u00a0 (degrees)");
</script>
</body>
</html>
